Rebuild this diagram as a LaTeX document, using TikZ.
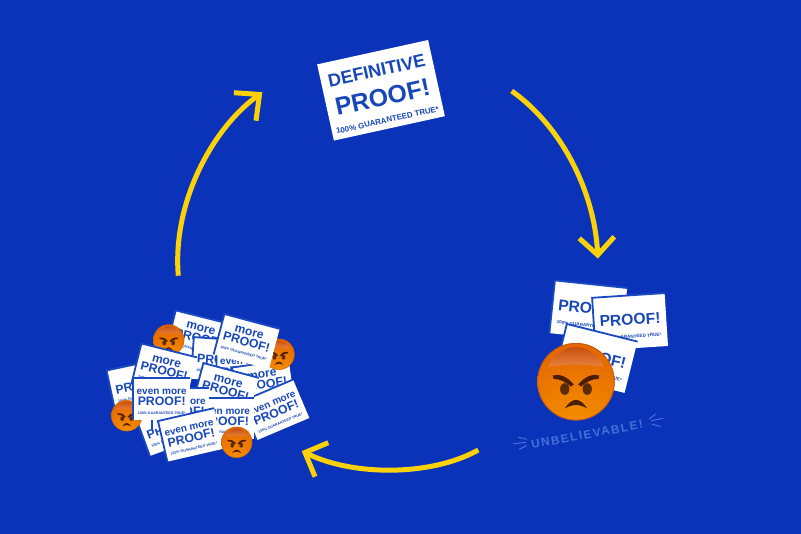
\documentclass[tikz,border=0pt]{standalone}
\usepackage{fontspec}
\setmainfont{Liberation Sans}
\newfontfamily\spacedfont[LetterSpace=13]{Liberation Sans}
\definecolor{bgblue}{HTML}{0A33BA}
\definecolor{inkblue}{HTML}{1747B8}
\definecolor{edgeblue}{HTML}{1A4ABF}
\definecolor{burstblue}{HTML}{4670D6}
\definecolor{arrowyellow}{HTML}{FBD208}
\definecolor{faceA}{HTML}{F79A00}
\definecolor{faceB}{HTML}{EE7C00}
\definecolor{faceC}{HTML}{DD5A00}
\definecolor{faceD}{HTML}{C84402}
\definecolor{faceE}{HTML}{B03A02}
\definecolor{ringbrown}{HTML}{C85806}
\definecolor{glossTop}{HTML}{C9500E}
\definecolor{glossLow}{HTML}{E88240}
\definecolor{browdark}{HTML}{4A1D04}
\definecolor{eyedark}{HTML}{5E2C04}
\pgfdeclareradialshading{angryface}{\pgfpoint{0bp}{-42bp}}{%
  color(0bp)=(faceA); color(28bp)=(faceB); color(58bp)=(faceC); color(82bp)=(faceD); color(92bp)=(faceE); color(100bp)=(faceE)}
\tikzset{
  cardbg/.style={fill=white,inner sep=0pt,minimum width=57pt,minimum height=41.5pt,transform shape},
  cardtxt/.style={text=inkblue,inner sep=0pt,anchor=base,font=\bfseries,transform shape},
  cardedge/.style={edgeblue,line width=1.8pt},
  loop/.style={arrowyellow,line width=5pt},
  loopHead/.style={arrowyellow,line width=5pt,miter limit=10},
  burst/.style={burstblue,line width=1pt},
}
% name, x, y, rot, scale, first line, y1, y2, y3  (baselines)
\newcommand\cardbase[9]{%
  \begin{scope}[shift={(#2,#3)},rotate=#4,scale=#5]
    \node[cardbg] (#1) at (0,0) {};
    \draw[cardedge] (#1.south west) -- (#1.north west) -- (#1.north east);
    \if\relax\detokenize{#6}\relax\else
      \node[cardtxt] (#1-a) at (0,#7) {#6};
    \fi
    \node[cardtxt] (#1-b) at (0,#8) {\fontsize{12.3}{12.3}\selectfont PROOF!};
    \node[cardtxt] (#1-c) at (0,#9) {\fontsize{3.6}{3.6}\selectfont 100\% GUARANTEED TRUE*};
  \end{scope}}
\newcommand\morecard[4]{\cardbase{#1}{#2}{#3}{#4}{1}{\fontsize{12}{12}\selectfont more}{-6.4}{4.4}{13.3}}
\newcommand\evencard[4]{\cardbase{#1}{#2}{#3}{#4}{1}{\fontsize{10}{10}\selectfont even more}{-4.4}{6.9}{15.3}}
\newcommand\plaincard[5]{\cardbase{#1}{#2}{#3}{#4}{#5}{}{0}{2.4}{12.8}}
% name, x, y, radius
\newcommand\angry[4]{%
  \begin{scope}[shift={(#2,#3)},scale=#4]
    \coordinate (#1) at (0,0);
    \shade[shading=angryface] (0,0) circle[radius=1];
    \draw[ringbrown,line width={#4*0.02pt}] (0,0) circle[radius=.99];
    \shade[top color=glossTop,bottom color=glossLow]
      (-.72,-.38) .. controls (-.55,-.72) and (-.28,-.90) .. (0,-.90)
      .. controls (.28,-.90) and (.55,-.72) .. (.72,-.38)
      .. controls (.4,-.46) and (-.4,-.46) .. (-.72,-.38) -- cycle;
    \fill[eyedark] (-.29,.19) ellipse[x radius=.12,y radius=.16];
    \fill[eyedark] (.29,.19) ellipse[x radius=.12,y radius=.16];
    \fill[browdark] (-.60,-.16) .. controls (-.42,-.22) and (-.22,-.12) .. (-.06,.07)
      -- (-.13,.13) .. controls (-.28,-.01) and (-.42,-.07) .. (-.58,-.07) -- cycle;
    \fill[browdark] (.60,-.16) .. controls (.42,-.22) and (.22,-.12) .. (.06,.07)
      -- (.13,.13) .. controls (.28,-.01) and (.42,-.07) .. (.58,-.07) -- cycle;
    \fill[browdark] (-.29,.69) .. controls (-.20,.56) and (-.10,.47) .. (0,.47)
      .. controls (.10,.47) and (.20,.56) .. (.29,.69)
      .. controls (.18,.63) and (.08,.60) .. (0,.60)
      .. controls (-.08,.60) and (-.18,.63) .. (-.29,.69) -- cycle;
  \end{scope}}
\begin{document}
\begin{tikzpicture}[x=1pt,y=-1pt]
\useasboundingbox (0,0) rectangle (801,534);
\fill[bgblue] (0,0) rectangle (801,534);

% main card
\begin{scope}[shift={(381,90.3)},rotate=12.4]
  \node[fill=white,inner sep=0pt,minimum width=113.6pt,minimum height=78pt,transform shape] (main) at (0,0) {};
  \node[cardtxt] (main-a) at (0,-14.1) {\fontsize{18}{18}\selectfont DEFINITIVE};
  \node[cardtxt] (main-b) at (0,15.6) {\fontsize{24.8}{24.8}\selectfont PROOF!};
  \node[cardtxt] (main-c) at (0,33.2) {\fontsize{7.9}{7.9}\selectfont 100\% GUARANTEED TRUE*};
\end{scope}

% loop arrows
\coordinate (a1s) at (511.7,91);
\coordinate (a1c) at (560,125);
\coordinate (a1d) at (595,190);
\coordinate (a1e) at (597.7,255);
\coordinate (a1l) at (579.3,238.3);
\coordinate (a1r) at (614.3,236.7);
\draw[loop] (a1s) .. controls (a1c) and (a1d) .. (a1e);
\draw[loopHead] (a1l) -- (a1e) -- (a1r);

\coordinate (a2s) at (478.3,450);
\coordinate (a2c) at (430,477);
\coordinate (a2d) at (350,476);
\coordinate (a2e) at (305,452.5);
\coordinate (a2l) at (328.3,442.7);
\coordinate (a2r) at (315,476.7);
\draw[loop] (a2s) .. controls (a2c) and (a2d) .. (a2e);
\draw[loopHead] (a2l) -- (a2e) -- (a2r);

\coordinate (a3s) at (178.3,275.7);
\coordinate (a3c) at (172,200);
\coordinate (a3d) at (215,125);
\coordinate (a3e) at (259.5,94.5);
\coordinate (a3l) at (234,92.7);
\coordinate (a3r) at (256,120.7);
\draw[loop] (a3s) .. controls (a3c) and (a3d) .. (a3e);
\draw[loopHead] (a3l) -- (a3e) -- (a3r);

% right group
\plaincard{ra}{588.4}{310.7}{-6}{1.27}
\plaincard{rb}{630.2}{322}{3.7}{1.27}
\plaincard{rc}{595.8}{358.6}{-14}{1.27}
\angry{rface}{576}{381.7}{38.7}
\node[rotate=10.4,text=burstblue,inner sep=0pt,font=\spacedfont\bfseries\fontsize{11.8}{11.8}\selectfont] (unb) at (587,434.5) {UNBELIEVABLE!};
\coordinate (bl1a) at (518.3,437.3); \coordinate (bl1b) at (526.7,439.3);
\coordinate (bl2a) at (513.3,443.7); \coordinate (bl2b) at (526,442.3);
\coordinate (bl3a) at (519,449.3);   \coordinate (bl3b) at (526.7,445.7);
\coordinate (br1a) at (649,419);     \coordinate (br1b) at (655.7,414);
\coordinate (br2a) at (651,420.7);   \coordinate (br2b) at (663.3,418.3);
\coordinate (br3a) at (651.7,424);   \coordinate (br3b) at (661,426.7);
\foreach \i in {1,2,3} {
  \draw[burst] (bl\i a) -- (bl\i b);
  \draw[burst] (br\i a) -- (br\i b);
}

% pile
\cardbase{pa}{139}{385}{12}{1}{}{0}{4.4}{13.3}
\morecard{pb}{169.7}{426.7}{20}
\morecard{pc}{198.5}{337.7}{-14}
\cardbase{pe}{221}{360}{-4}{1}{}{0}{4.4}{13.3}
\evencard{pg}{245.3}{368.7}{1}
\morecard{pf}{263.3}{384.3}{8}
\angry{f2}{279}{354.3}{15.5}
\evencard{ph}{275}{410}{23}
\morecard{pd}{246.7}{341.7}{-15}
\angry{f3}{126.7}{415.7}{15.5}
\angry{f1}{168.7}{340}{15.5}
\morecard{pl}{164.2}{370.8}{-14}
\morecard{pm}{225.7}{390.7}{-15}
\evencard{pi}{225}{418.7}{0}
\evencard{pj}{180.7}{408.7}{0}
\evencard{pk}{161.7}{399}{0}
\evencard{pn}{190.7}{435}{13}
\angry{f4}{236.7}{442.3}{15.5}
\end{tikzpicture}
\end{document}
